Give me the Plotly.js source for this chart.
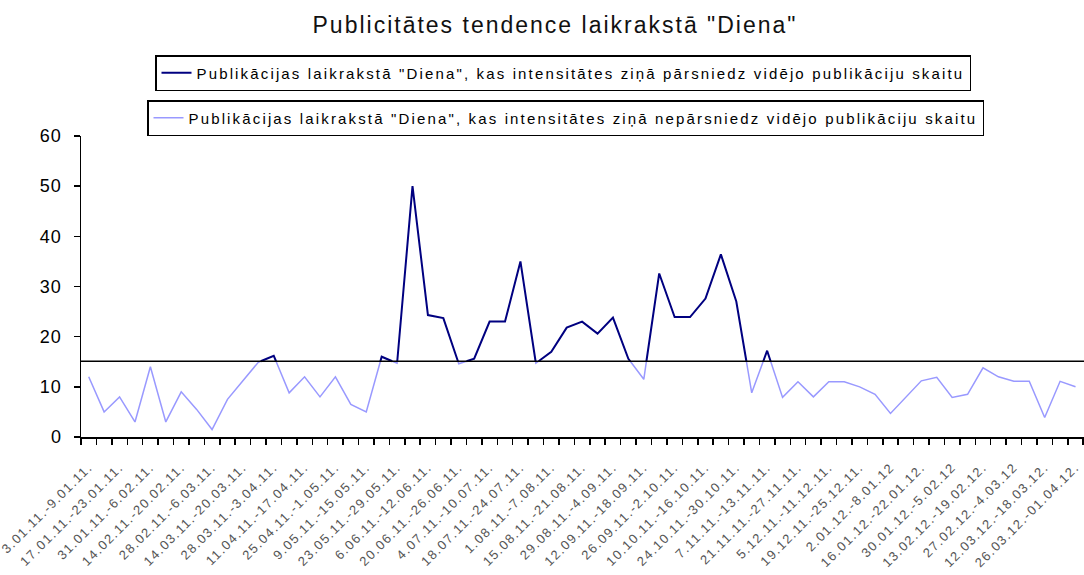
<!DOCTYPE html>
<html>
<head>
<meta charset="utf-8">
<script src="https://cdn.plot.ly/plotly-3.0.1.min.js"></script>
<style>
  html, body { margin: 0; padding: 0; background: #fff; overflow: hidden; }
  #chart { width: 1084px; height: 575px; }
  .legendtext, .legend2text { letter-spacing: 2.15px; }
  .gtitle { letter-spacing: 2px; }
  .xtick text { letter-spacing: 1.5px; }
  .ytick text { letter-spacing: 1px; }
</style>
</head>
<body>
<div id="chart"></div>
<script>
// Week categories (every second one is labelled on the axis)
const weekLabels = [
  "3.01.11.-9.01.11.", "10.01.11.-16.01.11.",
  "17.01.11.-23.01.11.", "24.01.11.-30.01.11.",
  "31.01.11.-6.02.11.", "7.02.11.-13.02.11.",
  "14.02.11.-20.02.11.", "21.02.11.-27.02.11.",
  "28.02.11.-6.03.11.", "7.03.11.-13.03.11.",
  "14.03.11.-20.03.11.", "21.03.11.-27.03.11.",
  "28.03.11.-3.04.11.", "4.04.11.-10.04.11.",
  "11.04.11.-17.04.11.", "18.04.11.-24.04.11.",
  "25.04.11.-1.05.11.", "2.05.11.-8.05.11.",
  "9.05.11.-15.05.11.", "16.05.11.-22.05.11.",
  "23.05.11.-29.05.11.", "30.05.11.-5.06.11.",
  "6.06.11.-12.06.11.", "13.06.11.-19.06.11.",
  "20.06.11.-26.06.11.", "27.06.11.-3.07.11.",
  "4.07.11.-10.07.11.", "11.07.11.-17.07.11.",
  "18.07.11.-24.07.11.", "25.07.11.-31.07.11.",
  "1.08.11.-7.08.11.", "8.08.11.-14.08.11.",
  "15.08.11.-21.08.11.", "22.08.11.-28.08.11.",
  "29.08.11.-4.09.11.", "5.09.11.-11.09.11.",
  "12.09.11.-18.09.11.", "19.09.11.-25.09.11.",
  "26.09.11.-2.10.11.", "3.10.11.-9.10.11.",
  "10.10.11.-16.10.11.", "17.10.11.-23.10.11.",
  "24.10.11.-30.10.11.", "31.10.11.-6.11.11.",
  "7.11.11.-13.11.11.", "14.11.11.-20.11.11.",
  "21.11.11.-27.11.11.", "28.11.11.-4.12.11.",
  "5.12.11.-11.12.11.", "12.12.11.-18.12.11.",
  "19.12.11.-25.12.11.", "26.12.11.-1.01.12.",
  "2.01.12.-8.01.12", "9.01.12.-15.01.12.",
  "16.01.12.-22.01.12.", "23.01.12.-29.01.12.",
  "30.01.12.-5.02.12", "6.02.12.-12.02.12.",
  "13.02.12.-19.02.12.", "20.02.12.-26.02.12.",
  "27.02.12.-4.03.12", "5.03.12.-11.03.12.",
  "12.03.12.-18.03.12.", "19.03.12.-25.03.12.",
  "26.03.12.-01.04.12."
];

// Weekly publication counts
const publications = [
  12, 5, 8, 3, 14, 3, 9, 5.5, 1.5, 7.5,
  11.2, 14.9, 16.2, 8.8, 12, 8, 12, 6.5, 5, 16,
  14.7, 50, 24.3, 23.7, 14.6, 15.6, 23, 23, 35, 14.7,
  17, 21.8, 23, 20.6, 23.8, 15.6, 11.5, 32.6, 23.9, 23.9,
  27.6, 36.4, 27, 8.8, 17.2, 7.9, 11, 8, 11, 11,
  10, 8.5, 4.7, 8, 11.2, 11.9, 7.9, 8.5, 13.8, 12,
  11.1, 11.1, 3.9, 11.1, 10
];

// Average weekly number of publications
const average = 15.1;

const seriesNames = [
  'Publikācijas laikrakstā "Diena", kas intensitātes ziņā pārsniedz vidējo publikāciju skaitu',
  'Publikācijas laikrakstā "Diena", kas intensitātes ziņā nepārsniedz vidējo publikāciju skaitu'
];

// Split the one weekly series into the part above and the part below the average
const idx = publications.map((_, i) => i);
const above = { x: [], y: [] };
const below = { x: [], y: [] };
function addSeg(target, x0, y0, x1, y1) {
  const n = target.x.length;
  if (n > 0 && target.x[n - 1] === x0 && target.y[n - 1] === y0) {
    target.x.push(x1); target.y.push(y1);
  } else {
    if (n > 0) { target.x.push(null); target.y.push(null); }
    target.x.push(x0, x1); target.y.push(y0, y1);
  }
}
for (let i = 0; i < publications.length - 1; i++) {
  const a = publications[i], b = publications[i + 1];
  const x0 = idx[i], x1 = idx[i + 1];
  const aUp = a >= average, bUp = b >= average;
  if (aUp && bUp) addSeg(above, x0, a, x1, b);
  else if (!aUp && !bUp) addSeg(below, x0, a, x1, b);
  else {
    const xc = x0 + (average - a) / (b - a) * (x1 - x0);
    addSeg(aUp ? above : below, x0, a, xc, average);
    addSeg(bUp ? above : below, xc, average, x1, b);
  }
}

const tickIdx = idx.filter(i => i % 2 === 0);
const tickText = tickIdx.map(i => weekLabels[i]);

const fontFam = '"Liberation Sans", Arial, sans-serif';

const traces = [
  {
    x: above.x, y: above.y, mode: 'lines', name: seriesNames[0],
    line: { color: '#000080', width: 2 }, connectgaps: false,
    legend: 'legend', hoverinfo: 'skip'
  },
  {
    x: below.x, y: below.y, mode: 'lines', name: seriesNames[1],
    line: { color: '#9999FF', width: 1.5 }, connectgaps: false,
    legend: 'legend2', hoverinfo: 'skip'
  }
];

const legendBase = {
  xref: 'container', yref: 'container', xanchor: 'left', yanchor: 'top',
  bgcolor: '#fff', bordercolor: '#000', borderwidth: 1.5,
  font: { size: 15, family: fontFam, color: '#000' },
  orientation: 'h'
};

const layout = {
  width: 1084, height: 575,
  paper_bgcolor: '#fff', plot_bgcolor: '#fff',
  margin: { l: 81, r: 0, t: 133, b: 138 },
  font: { family: fontFam, color: '#000' },
  title: {
    text: 'Publicitātes tendence laikrakstā "Diena"',
    font: { size: 23, family: fontFam, color: '#111' },
    xref: 'container', x: 0.512, xanchor: 'center',
    yref: 'container', y: 1 - 25 / 575, yanchor: 'middle'
  },
  showlegend: true,
  legend: Object.assign({}, legendBase, { x: 155 / 1084, y: 1 - 55 / 575 }),
  legend2: Object.assign({}, legendBase, { x: 147 / 1084, y: 1 - 100 / 575 }),
  xaxis: {
    range: [-0.5, 64.55],
    tickmode: 'array', tickvals: tickIdx, ticktext: tickText,
    tickangle: -45, ticks: '', ticklabelstandoff: 16,
    ticklabeloverflow: 'allow',
    tickfont: { size: 13, family: fontFam, color: '#555' },
    showline: true, linecolor: '#000', linewidth: 1.5,
    showgrid: false, zeroline: false,
    minor: { tickmode: 'linear', tick0: -0.5, dtick: 1, ticks: 'outside', ticklen: 6, tickcolor: '#000', tickwidth: 1.5, showgrid: false },
    fixedrange: true
  },
  yaxis: {
    range: [0, 60], dtick: 10, tick0: 0,
    ticks: 'outside', ticklen: 6, tickcolor: '#000', tickwidth: 1.5,
    ticklabelstandoff: 8,
    tickfont: { size: 18, family: fontFam, color: '#000' },
    showline: true, linecolor: '#000', linewidth: 1.5,
    showgrid: false, zeroline: false, fixedrange: true
  },
  shapes: [{
    type: 'line', xref: 'paper', x0: 0, x1: 1, yref: 'y', y0: average, y1: average,
    line: { color: '#000', width: 1.5 }
  }]
};

Plotly.newPlot('chart', traces, layout, { displayModeBar: false, staticPlot: true });
</script>
</body>
</html>
